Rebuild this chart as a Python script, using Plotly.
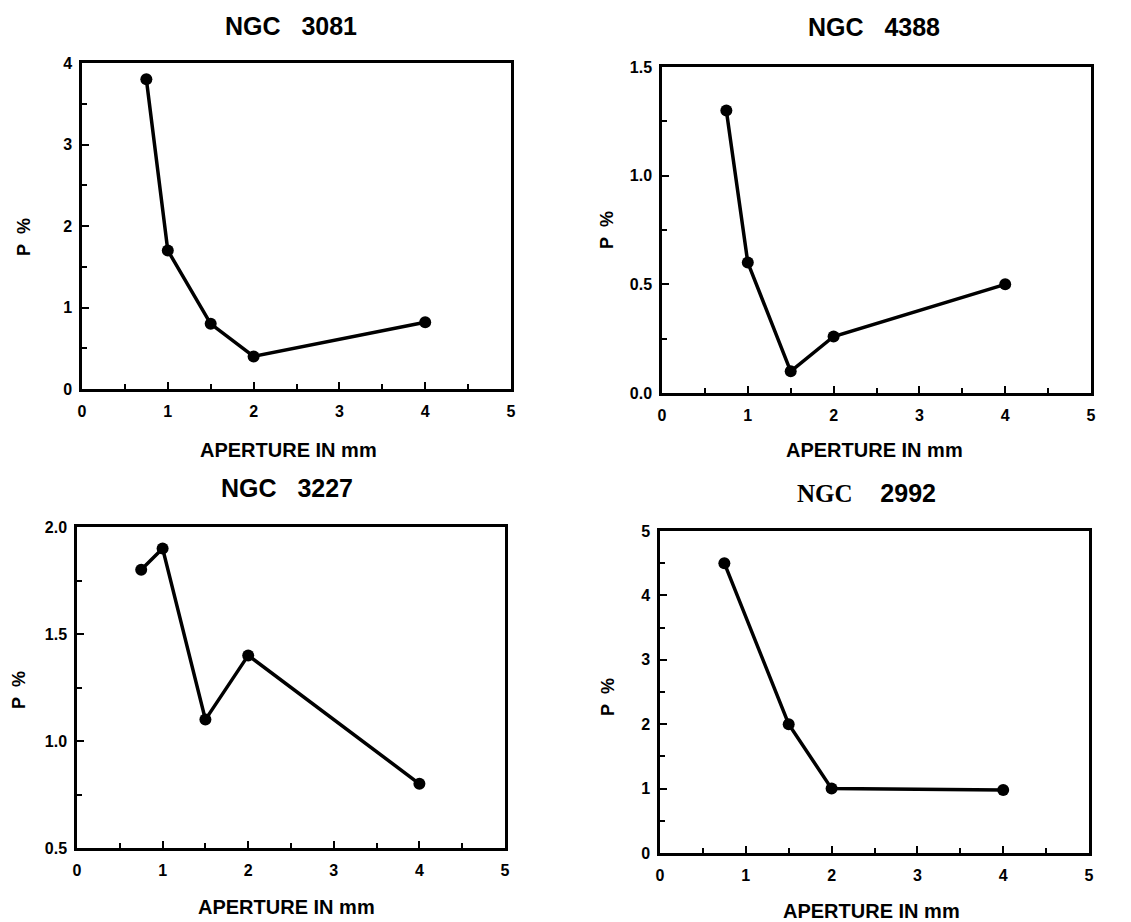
import plotly.graph_objects as go

# ---------------- data ----------------
titles = ["NGC  3081", "NGC  4388", "NGC  3227", "NGC  2992"]

x_3081 = [0.75, 1.0, 1.5, 2.0, 4.0]
p_3081 = [3.8, 1.7, 0.8, 0.4, 0.82]

x_4388 = [0.75, 1.0, 1.5, 2.0, 4.0]
p_4388 = [1.3, 0.6, 0.1, 0.26, 0.5]

x_3227 = [0.75, 1.0, 1.5, 2.0, 4.0]
p_3227 = [1.8, 1.9, 1.1, 1.4, 0.8]

x_2992 = [0.75, 1.5, 2.0, 4.0]
p_2992 = [4.5, 2.0, 1.0, 0.98]

x_ticks = [0, 1, 2, 3, 4, 5]
y_ticks_3081 = [0, 1, 2, 3, 4]
y_ticks_4388 = [0.0, 0.5, 1.0, 1.5]
y_ticks_3227 = [0.5, 1.0, 1.5, 2.0]
y_ticks_2992 = [0, 1, 2, 3, 4, 5]

x_label = "APERTURE IN mm"
y_label = "P %"

# ---------------- layout helpers ----------------
W, H = 1131, 922
OFF = 8  # page body margin of the html page
FONT = "Liberation Sans, Arial, Helvetica, sans-serif"


def px(v):
    return (v - OFF) / W


def py(v):
    return 1 - (v - OFF) / H


# panel pixel boxes: left, right, top, bottom
boxes = [
    (82, 511, 63, 389),
    (662, 1091, 67, 393),
    (77, 505, 527, 848),
    (660, 1089, 531, 853),
]
# pixel centres of the panel title, x-axis label and y-axis label
title_pos = [(291, 26), (874, 27), (287, 488), (866, 493)]
xlab_pos = [(288, 450), (874, 450), (286, 907), (872, 911)]
ylab_pos = [(24, 237), (607, 230), (19, 690), (608, 697)]

series = [
    (x_3081, p_3081, y_ticks_3081, 0.5, ".0f"),
    (x_4388, p_4388, y_ticks_4388, 0.25, ".1f"),
    (x_3227, p_3227, y_ticks_3227, 0.25, ".1f"),
    (x_2992, p_2992, y_ticks_2992, 0.5, ".0f"),
]

fig = go.Figure()
annotations = []

for i, ((l, r, t, b), (xs, ys, yt, ydt, yfmt)) in enumerate(zip(boxes, series)):
    n = "" if i == 0 else str(i + 1)
    xa = "x" + n
    ya = "y" + n
    fig.add_trace(go.Scatter(
        x=xs, y=ys, mode="lines+markers",
        line=dict(color="black", width=3.5),
        marker=dict(color="black", size=12),
        xaxis=xa, yaxis=ya, showlegend=False, hoverinfo="x+y",
    ))
    common = dict(
        showline=True, linecolor="black", linewidth=2.5, mirror=True,
        showgrid=False, zeroline=False, ticks="inside", tickcolor="black",
        tickwidth=2, ticklen=7, automargin=False,
        tickfont=dict(family=FONT, size=16, color="black", weight="bold"),
    )
    fig.layout["xaxis" + n] = dict(
        domain=[px(l), px(r)], range=[0, 5], tickvals=x_ticks,
        ticktext=[str(v) for v in x_ticks], ticklabelstandoff=6,
        minor=dict(dtick=0.5, tick0=0, ticks="inside", ticklen=5,
                   tickwidth=2, tickcolor="black"),
        anchor=ya, **common,
    )
    fig.layout["yaxis" + n] = dict(
        domain=[py(b), py(t)], range=[yt[0], yt[-1]], tickvals=yt,
        tickformat=yfmt, ticklabelstandoff=4,
        minor=dict(dtick=ydt, tick0=yt[0], ticks="inside", ticklen=5,
                   tickwidth=2, tickcolor="black"),
        anchor=xa, **common,
    )
    # panel title
    title_text = titles[i].replace("  ", "&nbsp;&nbsp;&nbsp;")
    if i == 3:
        name, num = titles[i].split("  ")
        title_text = ("<span style='font-family:Liberation Serif, serif'>" + name +
                      "</span>&nbsp;&nbsp;&nbsp;&nbsp;" + num)
    tx, ty = title_pos[i]
    annotations.append(dict(
        x=px(tx), y=py(ty),
        xref="paper", yref="paper", text=title_text, showarrow=False,
        xanchor="center", yanchor="middle",
        font=dict(family=FONT, size=25, color="black", weight="bold"),
    ))
    # x axis label
    lx, ly = xlab_pos[i]
    annotations.append(dict(
        x=px(lx), y=py(ly),
        xref="paper", yref="paper", text=x_label, showarrow=False,
        xanchor="center", yanchor="middle",
        font=dict(family=FONT, size=20, color="black", weight="bold"),
    ))
    # y axis label
    vx, vy = ylab_pos[i]
    annotations.append(dict(
        x=px(vx), y=py(vy),
        xref="paper", yref="paper", text=y_label.replace(" ", "&nbsp;&nbsp;"),
        showarrow=False,
        textangle=-90, xanchor="center", yanchor="middle",
        font=dict(family=FONT, size=18, color="black", weight="bold"),
    ))

fig.update_layout(
    width=W, height=H,
    margin=dict(l=0, r=0, t=0, b=0, pad=0, autoexpand=False),
    paper_bgcolor="white", plot_bgcolor="white",
    annotations=annotations,
)

fig.write_html("out.html")
